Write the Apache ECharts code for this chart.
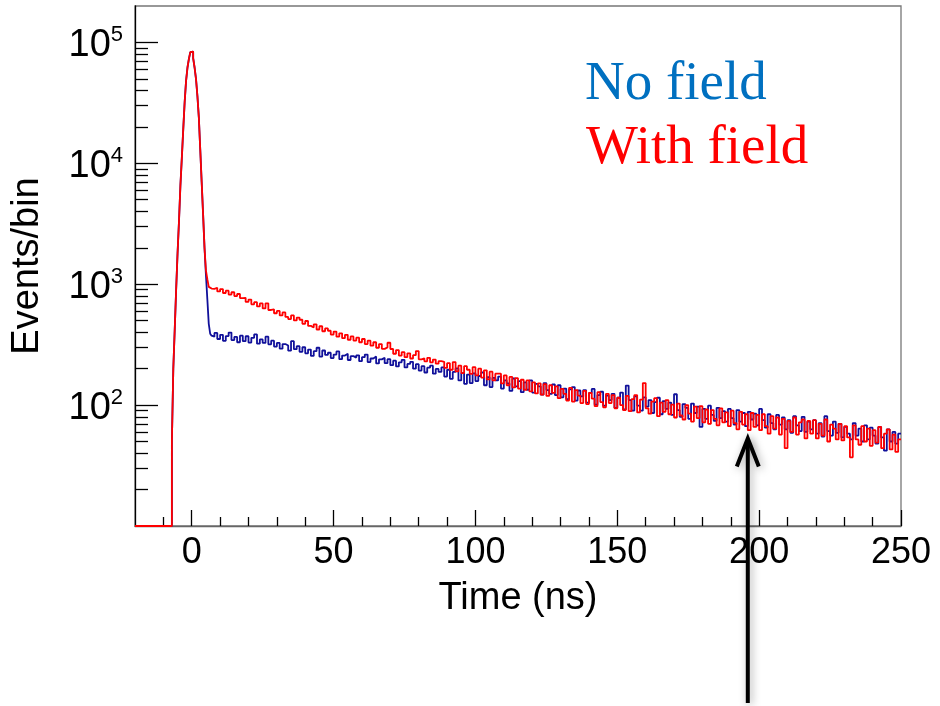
<!DOCTYPE html>
<html><head><meta charset="utf-8">
<script src="https://cdn.jsdelivr.net/npm/echarts@6/dist/echarts.min.js"></script>
<style>html,body{margin:0;padding:0;background:#fff}#c{width:940px;height:706px}</style>
</head><body><div id="c"></div>
<script>
// ---- axis ranges & tick labels ----
const X_MIN = -20, X_MAX = 250;
const Y_MIN = 10, Y_MAX = 200000;
const xMajorTicks = [0, 50, 100, 150, 200, 250];
const yMajorTicks = [100, 1000, 10000, 100000];

// ---- peak region (bin start times in ns, 0.5 ns bins; first bin empty) ----
const peakTimes = [-20, -7, -6.5, -6, -5.5, -5, -4.5, -4, -3.5, -3, -2.5, -2, -1.5, -1, -0.5, 0,
  0.5, 1, 1.5, 2, 2.5, 3, 3.5, 4, 4.5, 5, 5.5, 6, 6.5, 7, 7.5];
const peakNoField = [0, 50, 200, 420, 900, 1800, 3300, 6500, 11000, 19000, 32000, 48000, 62000, 73000, 83000, 84000,
  74000, 62000, 50000, 36000, 24000, 13000, 7000, 3800, 2000, 1200, 750, 470, 390, 375, 368];
const peakWithField = [0, 50, 200, 420, 900, 1800, 3300, 6500, 11000, 19000, 32000, 48000, 62000, 73000, 83000, 84000,
  74000, 62000, 50000, 36000, 24000, 13000, 7000, 3800, 2000, 1300, 1100, 950, 920, 900, 915];

// ---- tail region: 1 ns bins starting at TAIL_START ----
const TAIL_START = 8;
const tailNoField = [
  395, 352, 381, 340, 372, 398, 345, 366, 331, 375,
  338, 371, 329, 360, 384, 322, 349, 327, 368, 318,
  341, 305, 327, 293, 320, 311, 282, 338, 290, 307,
  276, 301, 268, 288, 255, 279, 298, 252, 283, 260,
  271, 245, 262, 278, 240, 257, 266, 236, 254, 247,
  258, 231, 249, 262, 227, 243, 252, 221, 239, 246,
  222, 240, 214, 233, 209, 226, 237, 205, 219, 228,
  200, 218, 193, 210, 186, 204, 212, 182, 199, 188,
  205, 172, 196, 165, 188, 201, 160, 184, 150, 179,
  152, 183, 158, 174, 186, 146, 170, 141, 168, 160,
  172, 137, 160, 151, 131, 166, 143, 158, 128, 154,
  134, 160, 127, 150, 143, 122, 152, 133, 124, 148,
  121, 146, 116, 137, 112, 135, 141, 109, 132, 118,
  133, 105, 126, 136, 101, 121, 129, 99, 120, 110,
  124, 95, 115, 127, 92, 145, 110, 90, 118, 99,
  90, 116, 97, 110, 86, 106, 115, 84, 108, 93,
  105, 83, 123, 91, 80, 102, 95, 77, 103, 86,
  97, 66, 93, 77, 99, 83, 74, 95, 78, 89,
  73, 93, 78, 69, 91, 73, 86, 67, 88, 76,
  85, 68, 93, 75, 65, 84, 71, 63, 83, 69,
  79, 63, 75, 59, 81, 68, 61, 80, 60, 73,
  63, 75, 58, 71, 55, 81, 61, 56, 73, 59,
  70, 54, 66, 58, 52, 71, 56, 64, 50, 68,
  52, 65, 56, 48, 66, 54, 42, 63, 50, 60,
  48, 58];
const tailWithField = [
  935, 872, 911, 846, 884, 820, 858, 798, 830, 768,
  772, 714, 746, 682, 710, 655, 694, 630, 695, 612,
  620, 575, 601, 552, 584, 536, 515, 552, 502, 530,
  508, 470, 496, 452, 438, 466, 422, 449, 408, 431,
  412, 383, 406, 368, 392, 358, 381, 347, 370, 342,
  361, 331, 352, 320, 341, 310, 331, 298, 320, 292,
  300, 328, 291, 266, 285, 257, 274, 249, 268, 243,
  259, 280, 239, 244, 230, 246, 226, 238, 220, 231,
  228, 203, 222, 196, 227, 190, 212, 184, 210, 196,
  181, 206, 176, 200, 169, 194, 163, 189, 160, 182,
  182, 151, 176, 146, 171, 140, 167, 137, 162, 134,
  160, 130, 154, 125, 151, 122, 149, 119, 146, 126,
  143, 114, 136, 124, 109, 139, 107, 133, 120, 104,
  131, 102, 126, 113, 98, 128, 106, 96, 124, 104,
  121, 94, 115, 100, 91, 119, 89, 112, 121, 87,
  111, 152, 94, 85, 107, 114, 81, 105, 88, 110,
  84, 101, 79, 103, 82, 76, 100, 85, 73, 97,
  78, 98, 72, 92, 70, 91, 77, 68, 94, 72,
  87, 67, 90, 71, 63, 88, 69, 84, 62, 86,
  66, 83, 62, 84, 67, 58, 81, 64, 79, 57,
  77, 44, 74, 60, 79, 57, 72, 76, 53, 74,
  58, 75, 53, 70, 56, 76, 50, 69, 64, 52,
  70, 51, 67, 54, 37, 68, 52, 47, 67, 50,
  64, 46, 62, 49, 66, 44, 58, 63, 43, 57,
  41, 52];

const seriesNames = ['No field', 'With field'];
const ARROW_TIME = 196;      // annotation arrow position (ns)
const ARROW_TIP_VALUE = 53;  // arrow tip level (events/bin)

// ---- build step data ----
function buildSteps(times, counts, tail) {
  const pts = [];
  times.forEach((t, i) => pts.push([t, counts[i] > 0 ? counts[i] : Y_MIN]));
  tail.forEach((c, i) => pts.push([TAIL_START + i, c]));
  pts.push([X_MAX, tail[tail.length - 1]]);
  return pts;
}
const xMinorTicks = [];
for (let v = X_MIN + 10; v < X_MAX; v += 10) if (xMajorTicks.indexOf(v) < 0) xMinorTicks.push(v);
const yMinorTicks = [];
[10, 100, 1000, 10000].forEach(d => { for (let m = 2; m <= 9; m++) yMinorTicks.push(m * d); });

const FONT = '"Liberation Sans", Arial, sans-serif';
const chart = echarts.init(document.getElementById('c'), null, {renderer: 'canvas'});
const tickStyle = {color: '#000', width: 1.3};

chart.setOption({
  animation: false,
  backgroundColor: '#fff',
  grid: {left: 135, top: 6, right: 39, bottom: 180, show: true, borderColor: '#777', borderWidth: 1.3,
         containLabel: false, outerBoundsMode: 'none'},
  xAxis: [{
    type: 'value', min: X_MIN, max: X_MAX, position: 'bottom',
    axisLine: {show: true, onZero: false, lineStyle: {color: '#666', width: 1.3}},
    axisTick: {show: true, inside: true, length: 16, customValues: xMajorTicks, lineStyle: tickStyle},
    axisLabel: {show: true, customValues: xMajorTicks, fontSize: 36, fontFamily: FONT, color: '#000', margin: 9},
    splitLine: {show: false},
    name: 'Time (ns)', nameLocation: 'middle', nameGap: 54,
    nameTextStyle: {fontSize: 38, fontFamily: FONT, color: '#000'}
  }, {
    type: 'value', min: X_MIN, max: X_MAX, position: 'bottom',
    axisLine: {show: false, onZero: false},
    axisTick: {show: true, inside: true, length: 9, customValues: xMinorTicks, lineStyle: tickStyle},
    axisLabel: {show: false}, splitLine: {show: false}
  }],
  yAxis: [{
    type: 'log', logBase: 10, min: Y_MIN, max: Y_MAX, position: 'left',
    axisLine: {show: true, onZero: false, lineStyle: {color: '#000', width: 1.3}},
    axisTick: {show: true, inside: true, length: 23, customValues: yMajorTicks, lineStyle: tickStyle},
    axisLabel: {
      show: true, customValues: yMajorTicks, margin: 12, padding: [7, 0, 0, 0],
      formatter: v => '{b|10}{s|' + Math.round(Math.log10(v)) + '}',
      rich: {
        b: {fontSize: 38, fontFamily: FONT, color: '#000', lineHeight: 44},
        s: {fontSize: 22, fontFamily: FONT, color: '#000', lineHeight: 22, verticalAlign: 'top'}
      }
    },
    splitLine: {show: false},
    name: 'Events/bin', nameLocation: 'middle', nameGap: 88, nameRotate: 90,
    nameTextStyle: {fontSize: 38, fontFamily: FONT, color: '#000'}
  }, {
    type: 'log', logBase: 10, min: Y_MIN, max: Y_MAX, position: 'left',
    axisLine: {show: false, onZero: false},
    axisTick: {show: true, inside: true, length: 13, customValues: yMinorTicks, lineStyle: tickStyle},
    axisLabel: {show: false}, splitLine: {show: false}
  }],
  series: [{
    name: seriesNames[0], type: 'line', step: 'end', xAxisIndex: 0, yAxisIndex: 0,
    showSymbol: false, symbol: 'none', clip: true,
    lineStyle: {color: '#10109a', width: 1.8},
    data: buildSteps(peakTimes, peakNoField, tailNoField), z: 2
  }, {
    name: seriesNames[1], type: 'line', step: 'end', xAxisIndex: 0, yAxisIndex: 0,
    showSymbol: false, symbol: 'none', clip: true,
    lineStyle: {color: '#ff0000', width: 1.8},
    data: buildSteps(peakTimes, peakWithField, tailWithField), z: 3
  }]
});

const ax = chart.convertToPixel({xAxisIndex: 0}, ARROW_TIME);
const tipY = chart.convertToPixel({yAxisIndex: 0}, ARROW_TIP_VALUE);
const shadow = {shadowBlur: 8, shadowColor: 'rgba(0,0,0,0.35)', shadowOffsetX: 2, shadowOffsetY: 2};
chart.setOption({
  graphic: [
    {type: 'text', z: 50, style: {x: 585, y: 85, text: seriesNames[0], font: '55px "Liberation Serif", "Times New Roman", serif',
      fill: '#0070c0', verticalAlign: 'middle', textVerticalAlign: 'middle'}},
    {type: 'text', z: 50, style: {x: 586, y: 149, text: seriesNames[1], font: '55px "Liberation Serif", "Times New Roman", serif',
      fill: '#ff0000', verticalAlign: 'middle', textVerticalAlign: 'middle'}},
    {type: 'line', z: 100, shape: {x1: ax, y1: tipY + 2, x2: ax, y2: 703},
      style: Object.assign({stroke: '#000', lineWidth: 4}, shadow)},
    {type: 'polyline', z: 100, shape: {points: [[ax - 11, tipY + 28], [ax, tipY], [ax + 11, tipY + 28]]},
      style: Object.assign({stroke: '#000', lineWidth: 4, fill: null, lineJoin: 'miter'}, shadow)}
  ]
});
</script></body></html>
